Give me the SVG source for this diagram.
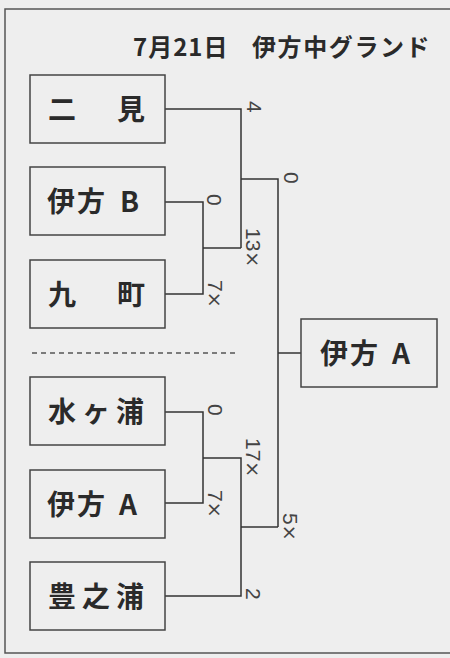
<svg xmlns="http://www.w3.org/2000/svg" width="450" height="658" viewBox="0 0 450 658">
<style>
.bg{fill:#eeeeee}
.frame{fill:none;stroke:#555;stroke-width:1.5}
.box{fill:none;stroke:#444;stroke-width:1.5}
.name{font-family:"Noto Sans CJK JP","Noto Sans",sans-serif;font-size:28px;font-weight:700;fill:#2a2a2a}
.title{font-family:"Noto Sans CJK JP","Noto Sans",sans-serif;font-size:24px;font-weight:700;fill:#2a2a2a}
.lbl{font-family:"Liberation Sans",Arial,sans-serif;font-size:21px;fill:#444}
.x{font-family:"DejaVu Sans",sans-serif;font-size:19px}
.conn{fill:none;stroke:#333;stroke-width:1.5}
.dash{fill:none;stroke:#555;stroke-width:1.5;stroke-dasharray:5 4}
</style>
<rect class="bg" x="0" y="0" width="450" height="658"/>
<rect class="frame" x="5" y="9" width="460" height="644"/>
<g id="title">
<text class="title" x="133" y="56" letter-spacing="1">7月21日</text>
<text class="title" x="252" y="56" letter-spacing="1.6">伊方中グランド</text>
</g>
<g id="connectors">
<path class="conn" d="M165,109 H241 V248"/>
<path class="conn" d="M165,202 H203 V294 H165"/>
<path class="conn" d="M203,248 H241"/>
<path class="conn" d="M241,179 H278 V527"/>
<path class="conn" d="M278,353 H301"/>
<path class="conn" d="M165,412 H203 V503 H165"/>
<path class="conn" d="M203,458 H241 V596 H165"/>
<path class="conn" d="M241,527 H278"/>
<path class="dash" d="M32,353 H238"/>
</g>
<g id="labels">
<text class="lbl" transform="translate(247,101) rotate(90)">4</text>
<text class="lbl" transform="translate(284,172) rotate(90)">0</text>
<text class="lbl" transform="translate(207,194) rotate(90)">0</text>
<text class="lbl" transform="translate(246,228) rotate(90)">13<tspan class="x">×</tspan></text>
<text class="lbl" transform="translate(208,280) rotate(90)">7<tspan class="x">×</tspan></text>
<text class="lbl" transform="translate(208,404) rotate(90)">0</text>
<text class="lbl" transform="translate(246,438) rotate(90)">17<tspan class="x">×</tspan></text>
<text class="lbl" transform="translate(208,490) rotate(90)">7<tspan class="x">×</tspan></text>
<text class="lbl" transform="translate(283,513) rotate(90)">5<tspan class="x">×</tspan></text>
<text class="lbl" transform="translate(246,588) rotate(90)">2</text>
</g>
<g id="node-futami">
<rect class="box" x="30" y="75" width="135" height="68"/>
<text class="name" x="48 117" y="120">二見</text>
</g>
<g id="node-ikata-b">
<rect class="box" x="30" y="167" width="135" height="68"/>
<text class="name" y="212"><tspan x="47 77">伊方</tspan><tspan x="120">B</tspan></text>
</g>
<g id="node-machi">
<rect class="box" x="30" y="260" width="135" height="68"/>
<text class="name" x="48 117" y="305">九町</text>
</g>
<g id="node-misakiura">
<rect class="box" x="30" y="377" width="135" height="68"/>
<text class="name" x="48 82 116" y="422">水ヶ浦</text>
</g>
<g id="node-ikata-a">
<rect class="box" x="30" y="470" width="135" height="68"/>
<text class="name" y="515"><tspan x="47 77">伊方</tspan><tspan x="119">A</tspan></text>
</g>
<g id="node-toyonoura">
<rect class="box" x="30" y="562" width="135" height="68"/>
<text class="name" x="48 82 116" y="607">豊之浦</text>
</g>
<g id="node-winner">
<rect class="box" x="301" y="319" width="136" height="68"/>
<text class="name" y="364"><tspan x="320 350">伊方</tspan><tspan x="392">A</tspan></text>
</g>
</svg>
